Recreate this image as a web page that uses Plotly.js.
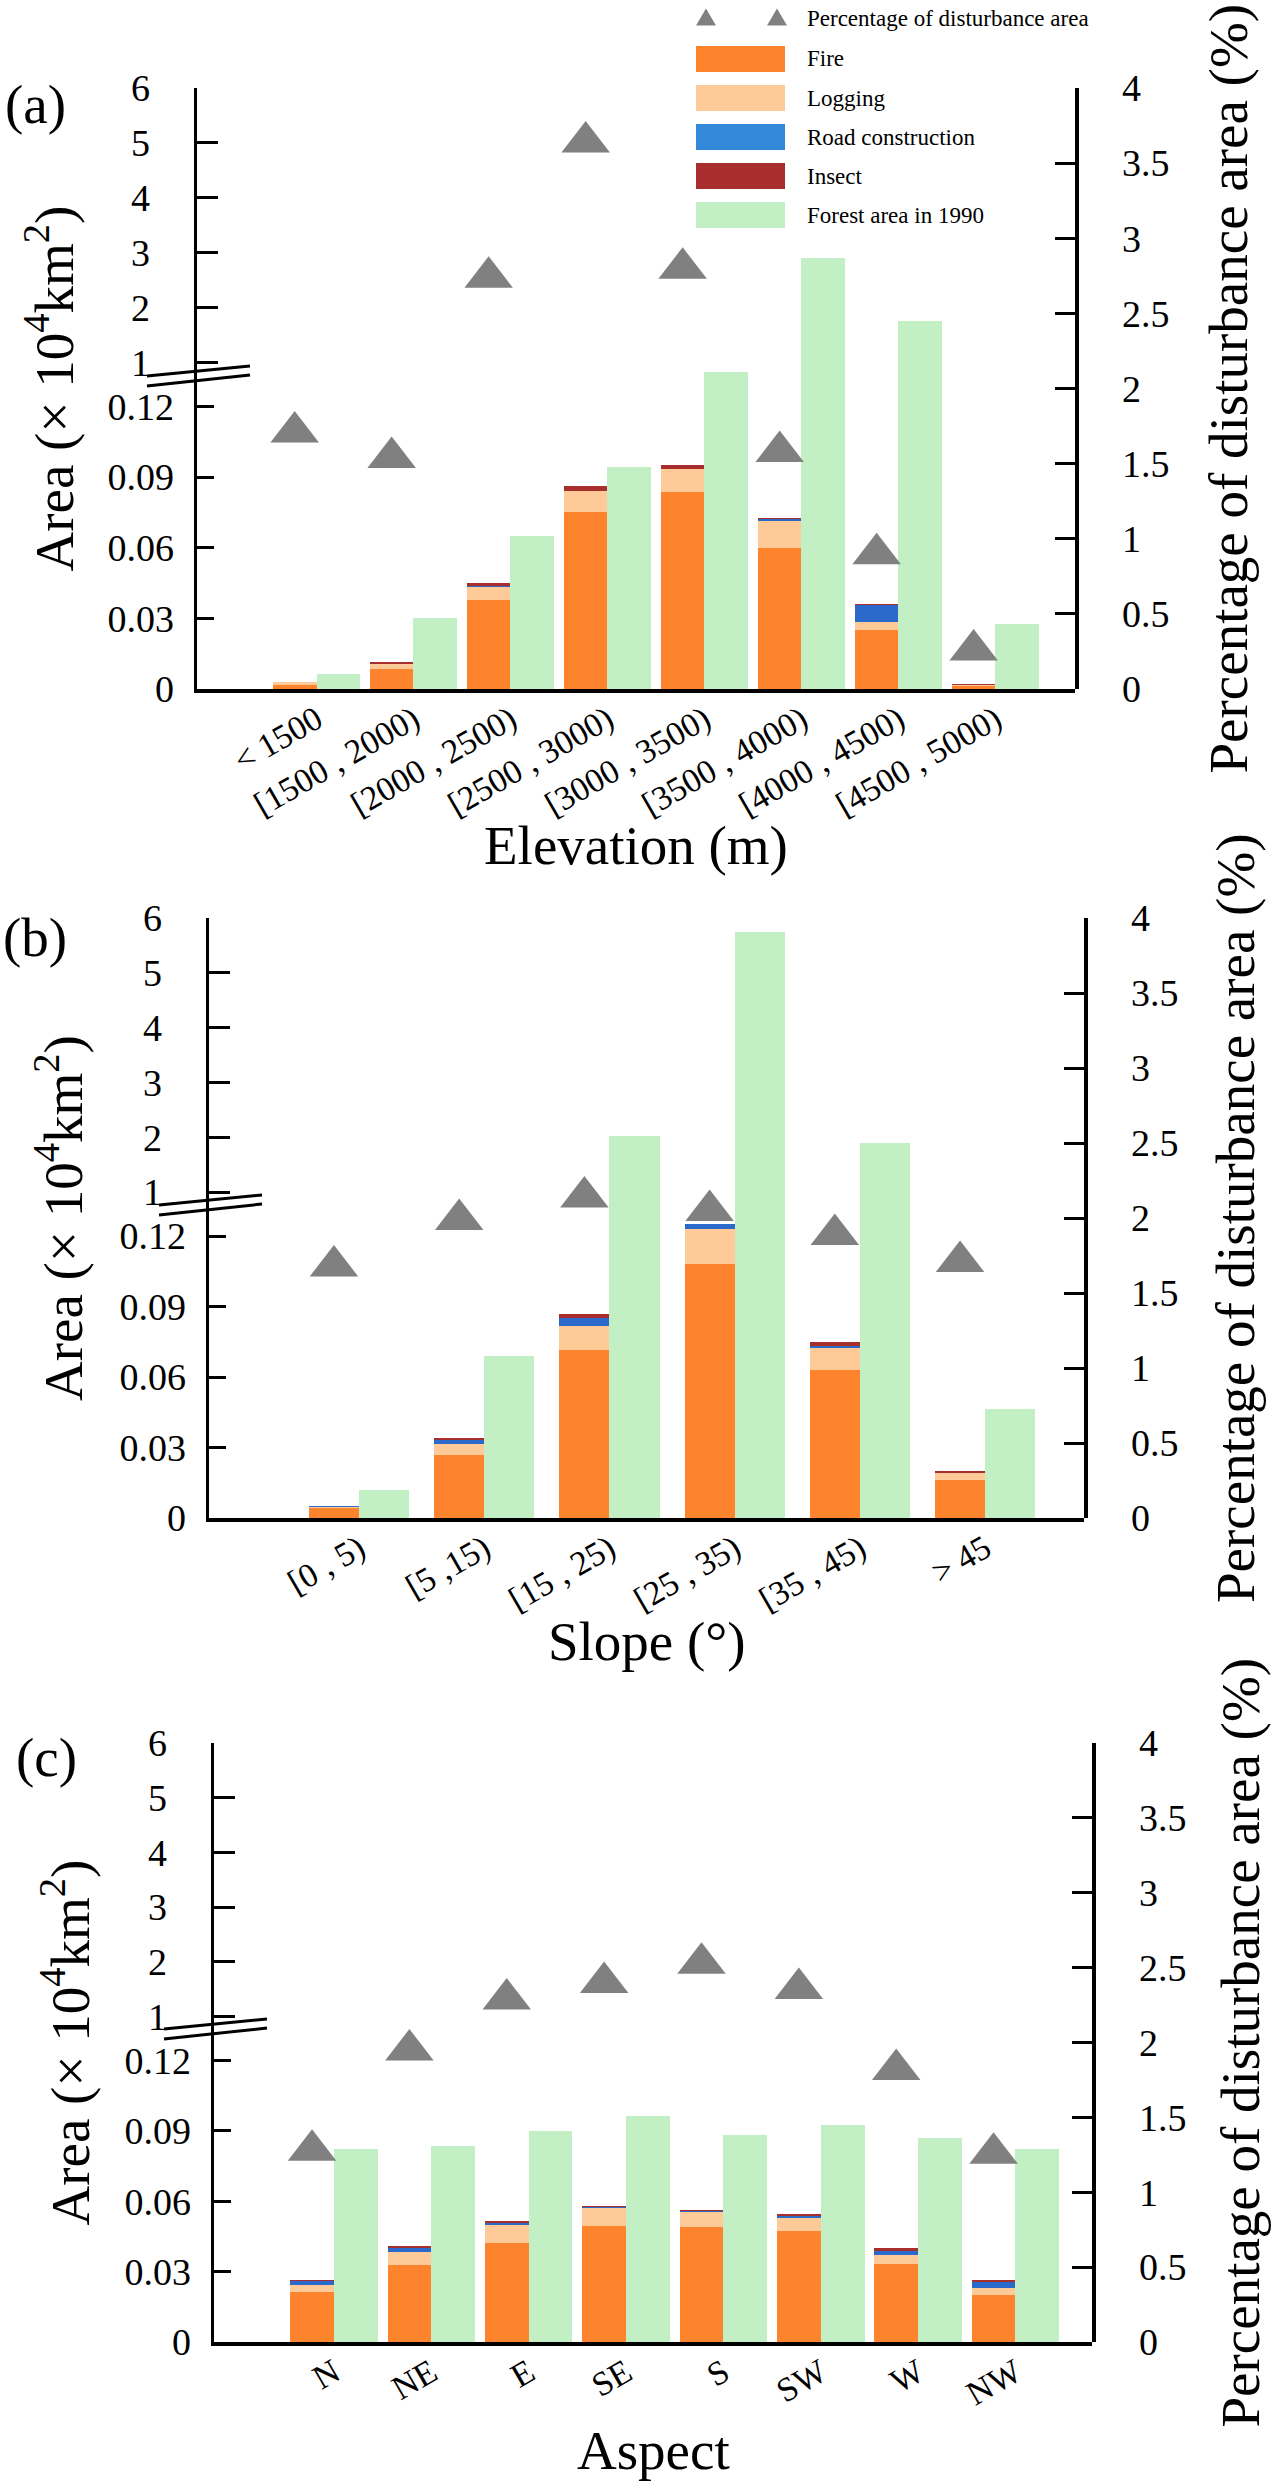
<!DOCTYPE html>
<html><head><meta charset="utf-8">
<script src="https://cdn.plot.ly/plotly-3.0.1.min.js"></script>
<style>html,body{margin:0;padding:0;background:#fff}#chart{width:1271px;height:2481px}</style>
</head><body><div id="chart"></div>
<script>
// ---------------- data ----------------
const elevCats = ['< 1500','[1500 , 2000)','[2000 , 2500)','[2500 , 3000)','[3000 , 3500)','[3500 , 4000)','[4000 , 4500)','[4500 , 5000)'];
const elevFire    = [0.0018,0.0084,0.0377,0.0750,0.0838,0.0598,0.0252,0.0013];
const elevLogging = [0.0010,0.0021,0.0057,0.0091,0.0095,0.0115,0.0032,0.0002];
const elevRoad    = [0.0000,0.0002,0.0003,0.0000,0.0000,0.0008,0.0074,0.0004];
const elevInsect  = [0.0002,0.0008,0.0013,0.0021,0.0017,0.0007,0.0003,0.0002];
const elevForest  = [0.10,0.47,1.02,1.48,2.11,2.87,2.45,0.43];
const elevPct     = [1.71,1.54,2.74,3.64,2.80,1.58,0.90,0.26];

const slopeCats = ['[0 , 5)','[5 ,15)','[15 , 25)','[25 , 35)','[35 , 45)','> 45'];
const slopeFire    = [0.0042,0.0269,0.0715,0.1082,0.0630,0.0162];
const slopeLogging = [0.0005,0.0044,0.0102,0.0149,0.0095,0.0029];
const slopeRoad    = [0.0002,0.0019,0.0036,0.0019,0.0009,0.0002];
const slopeInsect  = [0.0001,0.0008,0.0013,0.0000,0.0014,0.0007];
const slopeForest  = [0.19,1.08,2.55,3.91,2.50,0.73];
const slopePct     = [1.68,1.99,2.14,2.05,1.89,1.71];

const aspectCats = ['N','NE','E','SE','S','SW','W','NW'];
const aspectFire    = [0.0214,0.0327,0.0423,0.0495,0.0489,0.0472,0.0331,0.0201];
const aspectLogging = [0.0030,0.0057,0.0077,0.0075,0.0064,0.0055,0.0038,0.0030];
const aspectRoad    = [0.0015,0.0017,0.0009,0.0005,0.0007,0.0010,0.0020,0.0025];
const aspectInsect  = [0.0006,0.0009,0.0008,0.0006,0.0004,0.0009,0.0010,0.0009];
const aspectForest  = [1.29,1.31,1.41,1.51,1.38,1.45,1.36,1.29];
const aspectPct     = [1.28,1.95,2.29,2.40,2.53,2.36,1.82,1.26];

const legendLabels = ['Fire','Logging','Road construction','Insect','Forest area in 1990'];
const pctLabel = 'Percentage of disturbance area';

// ---------------- styles ----------------
const FONT = "'Liberation Serif', 'Times New Roman', serif";
const W = 1271, H = 2481;
const px = v => v / W, py = v => 1 - v / H;
const COLORS = {fire:'#FD832C', logging:'#FDCA98', road:'#2B6ACB', roadLegend:'#3388DA',
                insect:'#A82E2E', forest:'#C2EFC3', tri:'#808080'};
const LOW_FRAC = 313/600, LOW_TOP = 313/2350, UP_BOTTOM = 0.763;

const panels = [
  {cats:elevCats, fire:elevFire, logging:elevLogging, road:elevRoad, insect:elevInsect, forest:elevForest, pct:elevPct,
   L:197, R:1075, T:88, B:689, range:[-1.232,7.82], w:0.45,
   xTitle:'Elevation (m)', xTitleX:636, xTitleY:845, tag:'(a)', tagX:35, tagY:104, yTitleX:50, rTitleX:1228},
  {cats:slopeCats, fire:slopeFire, logging:slopeLogging, road:slopeRoad, insect:slopeInsect, forest:slopeForest, pct:slopePct,
   L:209, R:1084, T:918, B:1518, range:[-1.198,5.79], w:0.40,
   xTitle:'Slope (°)', xTitleX:647, xTitleY:1642, tag:'(b)', tagX:35, tagY:937, yTitleX:60, rTitleX:1236},
  {cats:aspectCats, fire:aspectFire, logging:aspectLogging, road:aspectRoad, insect:aspectInsect, forest:aspectForest, pct:aspectPct,
   L:214, R:1092, T:1743, B:2342, range:[-1.232,7.786], w:0.45,
   xTitle:'Aspect', xTitleX:653, xTitleY:2450, tag:'(c)', tagX:46, tagY:1757, yTitleX:66, rTitleX:1240}
];

const traces = [], shapes = [], annotations = [];
const layout = {
  width: W, height: H, margin:{l:0,r:0,t:0,b:0,pad:0},
  paper_bgcolor:'#fff', plot_bgcolor:'rgba(0,0,0,0)',
  showlegend:false, barmode:'stack',
  font:{family:FONT, color:'#000'}
};
const sfx = n => (n === 1 ? '' : String(n));
const tickFont = {family:FONT, size:38, color:'#000'};

panels.forEach((p, k) => {
  const xn1 = 2*k+1, xn2 = 2*k+2, yLo = 3*k+1, yUp = 3*k+2, yR = 3*k+3;
  const xa = 'x'+sfx(xn1), xb = 'x'+sfx(xn2), yl = 'y'+sfx(yLo), yu = 'y'+sfx(yUp), yr = 'y'+sfx(yR);

  const series = [[legendLabels[0], p.fire, COLORS.fire], [legendLabels[1], p.logging, COLORS.logging],
                  [legendLabels[2], p.road, COLORS.road], [legendLabels[3], p.insect, COLORS.insect]];
  series.forEach(([name, vals, col]) => traces.push({
    type:'bar', name, x:p.cats, y:vals, xaxis:xa, yaxis:yl, width:p.w, offset:-p.w,
    marker:{color:col, line:{width:0}}, hoverinfo:'skip'}));
  traces.push({type:'bar', name:legendLabels[4], x:p.cats, y:p.forest, xaxis:xa, yaxis:yr,
    width:p.w, offset:0, marker:{color:COLORS.forest, line:{width:0}}, hoverinfo:'skip'});
  traces.push({type:'scatter', mode:'markers', name:pctLabel, x:p.cats, y:p.pct, xaxis:xb, yaxis:yr,
    marker:{symbol:'triangle-up', size:42, color:COLORS.tri, line:{width:0}}, hoverinfo:'skip'});
  traces.push({type:'scatter', mode:'markers', x:[], y:[], xaxis:xa, yaxis:yu, hoverinfo:'skip'});

  const left = px(p.L), right = px(p.R), bottom = py(p.B), top = py(p.T);
  const split = bottom + (top - bottom) * LOW_FRAC;

  layout['xaxis'+sfx(xn1)] = {domain:[left,right], anchor:yl, type:'category', range:p.range,
    showline:true, linewidth:3.5, linecolor:'#000', ticks:'', showgrid:false, zeroline:false,
    tickangle:-30, tickfont:{family:FONT, size:34, color:'#000'}, ticklabelstandoff:-6, fixedrange:true};
  layout['xaxis'+sfx(xn2)] = {overlaying:xa, anchor:yr, type:'category',
    range:[p.range[0]+p.w/2, p.range[1]+p.w/2], visible:false, fixedrange:true};

  const common = {anchor:xa, showline:true, linewidth:3.5, linecolor:'#000', ticks:'inside', tickwidth:3,
    tickcolor:'#000', showgrid:false, zeroline:false, tickfont:tickFont, fixedrange:true};
  layout['yaxis'+sfx(yLo)] = Object.assign({}, common, {domain:[bottom, split], range:[0, LOW_TOP],
    tick0:0, dtick:0.03, ticklen:17, ticklabelstandoff:12});
  layout['yaxis'+sfx(yUp)] = Object.assign({}, common, {domain:[split, top], range:[UP_BOTTOM, 6],
    tick0:0, dtick:1, ticklen:21, ticklabelstandoff:36});
  layout['yaxis'+sfx(yR)] = Object.assign({}, common, {domain:[bottom, top], side:'right', range:[0,4],
    tick0:0, dtick:0.5, ticklen:20, ticklabelstandoff:36});

  // axis break marks
  [[303,314],[313,323]].forEach(([a,b]) => shapes.push({type:'line', xref:'paper', yref:'paper',
    x0:px(p.L-50), y0:py(p.B-a), x1:px(p.L+53), y1:py(p.B-b), line:{color:'#000', width:3}}));

  const mid = (p.T + p.B) / 2;
  annotations.push({text:'Area (× 10<sup>4</sup>km<sup>2</sup>)', x:px(p.yTitleX), y:py(mid), xref:'paper', yref:'paper',
    xanchor:'center', yanchor:'middle', textangle:-90, showarrow:false, font:{family:FONT, size:55, color:'#000'}});
  annotations.push({text:'Percentage of disturbance area (%)', x:px(p.rTitleX), y:py(mid), xref:'paper', yref:'paper',
    xanchor:'center', yanchor:'middle', textangle:-90, showarrow:false, font:{family:FONT, size:55, color:'#000'}});
  annotations.push({text:p.xTitle, x:px(p.xTitleX), y:py(p.xTitleY), xref:'paper', yref:'paper',
    xanchor:'center', yanchor:'middle', showarrow:false, font:{family:FONT, size:55, color:'#000'}});
  annotations.push({text:p.tag, x:px(p.tagX), y:py(p.tagY), xref:'paper', yref:'paper',
    xanchor:'center', yanchor:'middle', showarrow:false, font:{family:FONT, size:55, color:'#000'}});
});

// ---------------- legend (drawn) ----------------
const tri = (cx, cy) => ({type:'path', xref:'paper', yref:'paper', fillcolor:COLORS.tri, line:{width:0},
  path:`M ${px(cx-10)} ${py(cy+8.5)} L ${px(cx+10)} ${py(cy+8.5)} L ${px(cx)} ${py(cy-8.5)} Z`});
shapes.push(tri(706, 17), tri(777, 17));
annotations.push({text:pctLabel, x:px(805), y:py(18), xref:'paper', yref:'paper', xanchor:'left', yanchor:'middle',
  showarrow:false, font:{family:FONT, size:23, color:'#000'}});
const legendColors = [COLORS.fire, COLORS.logging, COLORS.roadLegend, COLORS.insect, COLORS.forest];
legendLabels.forEach((lab, i) => {
  const yc = 59 + 39*i;
  shapes.push({type:'rect', xref:'paper', yref:'paper', x0:px(696), x1:px(785), y0:py(yc-13), y1:py(yc+13),
    fillcolor:legendColors[i], line:{width:0}});
  annotations.push({text:lab, x:px(805), y:py(yc), xref:'paper', yref:'paper', xanchor:'left', yanchor:'middle',
    showarrow:false, font:{family:FONT, size:23, color:'#000'}});
});

layout.shapes = shapes;
layout.annotations = annotations;
Plotly.newPlot('chart', traces, layout, {staticPlot:true, displayModeBar:false});
</script>
</body></html>
